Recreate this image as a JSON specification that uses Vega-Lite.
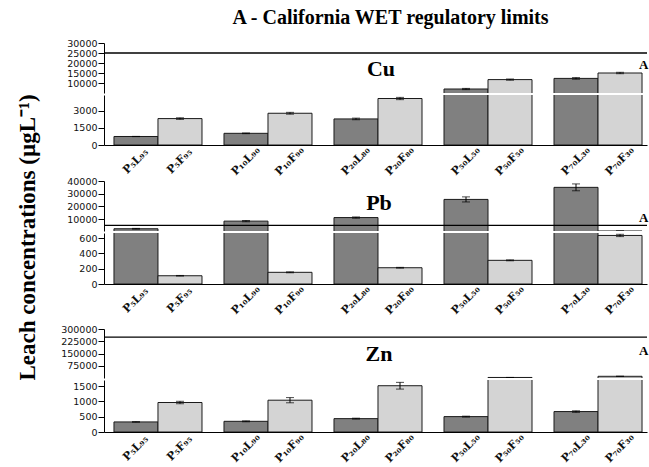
{
"$schema": "https://vega.github.io/schema/vega-lite/v6.json",
"padding": {"left": 16, "top": 8, "right": 0, "bottom": 0},
"title": {"text": "A - California WET regulatory limits", "font": "Liberation Serif", "fontSize": 20, "fontWeight": "bold", "color": "#000", "anchor": "middle", "frame": "group", "offset": 10, "dx": 15},
"bounds": "flush",
"spacing": 2,
"config": {"view": {"stroke": null}, "axis": {"domainColor": "#000", "tickColor": "#000", "labelFont": "DejaVu Sans", "labelFontSize": 9.5, "labelColor": "#111", "grid": false, "tickSize": 6, "labelPadding": 1, "labelOverlap": false, "labelFlush": false}},
"datasets": {
"cu": [
{"g":"P5","t":"L","lab":"P₅L₉₅","v":750,"lo":740,"hi":760},
{"g":"P5","t":"F","lab":"P₅F₉₅","v":2330,"lo":2260,"hi":2400},
{"g":"P10","t":"L","lab":"P₁₀L₉₀","v":1030,"lo":1000,"hi":1060},
{"g":"P10","t":"F","lab":"P₁₀F₉₀","v":2800,"lo":2720,"hi":2880},
{"g":"P20","t":"L","lab":"P₂₀L₈₀","v":2300,"lo":2230,"hi":2370},
{"g":"P20","t":"F","lab":"P₂₀F₈₀","v":4100,"lo":4000,"hi":4200},
{"g":"P50","t":"L","lab":"P₅₀L₅₀","v":7000,"lo":6700,"hi":7300},
{"g":"P50","t":"F","lab":"P₅₀F₅₀","v":11700,"lo":11400,"hi":12000},
{"g":"P70","t":"L","lab":"P₇₀L₃₀","v":12300,"lo":11900,"hi":12700},
{"g":"P70","t":"F","lab":"P₇₀F₃₀","v":15000,"lo":14650,"hi":15350}],
"pb": [
{"g":"P5","t":"L","lab":"P₅L₉₅","v":2400,"lo":2100,"hi":2700},
{"g":"P5","t":"F","lab":"P₅F₉₅","v":108,"lo":104,"hi":112},
{"g":"P10","t":"L","lab":"P₁₀L₉₀","v":8400,"lo":7900,"hi":8900},
{"g":"P10","t":"F","lab":"P₁₀F₉₀","v":153,"lo":147,"hi":159},
{"g":"P20","t":"L","lab":"P₂₀L₈₀","v":11200,"lo":10700,"hi":11700},
{"g":"P20","t":"F","lab":"P₂₀F₈₀","v":213,"lo":208,"hi":218},
{"g":"P50","t":"L","lab":"P₅₀L₅₀","v":25500,"lo":23500,"hi":27500},
{"g":"P50","t":"F","lab":"P₅₀F₅₀","v":310,"lo":304,"hi":316},
{"g":"P70","t":"L","lab":"P₇₀L₃₀","v":35000,"lo":32300,"hi":37700},
{"g":"P70","t":"F","lab":"P₇₀F₃₀","v":636,"lo":621,"hi":651}],
"zn": [
{"g":"P5","t":"L","lab":"P₅L₉₅","v":329,"lo":321,"hi":337},
{"g":"P5","t":"F","lab":"P₅F₉₅","v":964,"lo":924,"hi":1004},
{"g":"P10","t":"L","lab":"P₁₀L₉₀","v":349,"lo":334,"hi":364},
{"g":"P10","t":"F","lab":"P₁₀F₉₀","v":1040,"lo":955,"hi":1125},
{"g":"P20","t":"L","lab":"P₂₀L₈₀","v":437,"lo":422,"hi":452},
{"g":"P20","t":"F","lab":"P₂₀F₈₀","v":1513,"lo":1403,"hi":1623},
{"g":"P50","t":"L","lab":"P₅₀L₅₀","v":503,"lo":488,"hi":518},
{"g":"P50","t":"F","lab":"P₅₀F₅₀","v":5000,"lo":5000,"hi":5000},
{"g":"P70","t":"L","lab":"P₇₀L₃₀","v":668,"lo":643,"hi":693},
{"g":"P70","t":"F","lab":"P₇₀F₃₀","v":12000,"lo":12000,"hi":12000}]
},
"vconcat": [
{"width": 543, "height": 50, "data": {"name": "cu"}, "transform": [{"filter": "datum.v > 5000"}], "layer": [
 {"mark": {"type": "bar", "clip": true, "stroke": "#1a1a1a", "strokeWidth": 1},
  "encoding": {
   "x": {"field": "g", "type": "nominal", "scale": {"domain": ["P5","P10","P20","P50","P70"], "paddingInner": 0.2, "paddingOuter": 0.068, "align": 0.667}, "axis": null},
   "xOffset": {"field": "t", "type": "nominal", "scale": {"domain": ["L","F"], "paddingInner": 0, "paddingOuter": 0}},
   "y": {"field": "v", "type": "quantitative", "scale": {"domain": [5000, 30000], "zero": false, "nice": false}, "axis": {"values": [10000,15000,20000,25000,30000], "tickCount": 10, "labelOverlap": false, "format": "d", "title": null}},
   "color": {"field": "t", "type": "nominal", "scale": {"domain": ["L","F"], "range": ["#808080","#d4d4d4"]}, "legend": null}}},
 {"mark": {"type": "rule", "clip": true, "color": "#000"},
  "encoding": {"x": {"field": "g", "type": "nominal", "axis": null}, "xOffset": {"field": "t", "type": "nominal"}, "y": {"field": "lo", "type": "quantitative", "title": null}, "y2": {"field": "hi"}}},
 {"mark": {"type": "tick", "clip": true, "color": "#000", "size": 8, "thickness": 1},
  "encoding": {"x": {"field": "g", "type": "nominal", "axis": null}, "xOffset": {"field": "t", "type": "nominal"}, "y": {"field": "lo", "type": "quantitative", "title": null}}},
 {"mark": {"type": "tick", "clip": true, "color": "#000", "size": 8, "thickness": 1},
  "encoding": {"x": {"field": "g", "type": "nominal", "axis": null}, "xOffset": {"field": "t", "type": "nominal"}, "y": {"field": "hi", "type": "quantitative", "title": null}}},
 {"data": {"values": [{"limit": 25000}]}, "mark": {"type": "rule", "color": "#000", "strokeWidth": 1.3},
  "encoding": {"y": {"field": "limit", "type": "quantitative", "title": null}}},
 {"data": {"values": [{"metal": "Cu"}]}, "mark": {"type": "text", "font": "Liberation Serif", "fontWeight": "bold", "fontSize": 22, "baseline": "alphabetic", "dx": 3, "color": "#000"},
  "encoding": {"x": {"datum": "P20", "type": "nominal", "axis": null}, "y": {"datum": 13650, "type": "quantitative", "title": null}, "text": {"field": "metal"}}},
 {"data": {"values": [{"note": "A"}]}, "mark": {"type": "text", "font": "Liberation Serif", "fontWeight": "bold", "fontSize": 13, "baseline": "alphabetic", "align": "left", "dx": 41, "color": "#000"},
  "encoding": {"x": {"datum": "P70", "type": "nominal", "axis": null}, "y": {"datum": 17150, "type": "quantitative", "title": null}, "text": {"field": "note"}}}
]},
{"width": 543, "height": 50, "data": {"name": "cu"}, "layer": [
 {"mark": {"type": "bar", "clip": true, "stroke": "#1a1a1a", "strokeWidth": 1},
  "encoding": {
   "x": {"field": "g", "type": "nominal", "scale": {"domain": ["P5","P10","P20","P50","P70"], "paddingInner": 0.2, "paddingOuter": 0.068, "align": 0.667}, "axis": {"labels": false, "ticks": false, "title": null, "domainColor": "#000"}},
   "xOffset": {"field": "t", "type": "nominal", "scale": {"domain": ["L","F"], "paddingInner": 0, "paddingOuter": 0}},
   "y": {"field": "v", "type": "quantitative", "scale": {"domain": [0, 4410], "nice": false}, "axis": {"values": [0,1500,3000], "tickCount": 10, "labelOverlap": false, "format": "d", "title": null}},
   "color": {"field": "t", "type": "nominal", "scale": {"domain": ["L","F"], "range": ["#808080","#d4d4d4"]}, "legend": null}}},
 {"mark": {"type": "rule", "clip": true, "color": "#000"},
  "encoding": {"x": {"field": "g", "type": "nominal"}, "xOffset": {"field": "t", "type": "nominal"}, "y": {"field": "lo", "type": "quantitative", "title": null}, "y2": {"field": "hi"}}},
 {"mark": {"type": "tick", "clip": true, "color": "#000", "size": 8, "thickness": 1},
  "encoding": {"x": {"field": "g", "type": "nominal"}, "xOffset": {"field": "t", "type": "nominal"}, "y": {"field": "lo", "type": "quantitative", "title": null}}},
 {"mark": {"type": "tick", "clip": true, "color": "#000", "size": 8, "thickness": 1},
  "encoding": {"x": {"field": "g", "type": "nominal"}, "xOffset": {"field": "t", "type": "nominal"}, "y": {"field": "hi", "type": "quantitative", "title": null}}},
 {"mark": {"type": "text", "font": "DejaVu Serif", "fontWeight": "bold", "fontSize": 11, "angle": -45, "align": "center", "baseline": "middle", "dx": -11.5, "dy": 11.5, "color": "#111"},
  "encoding": {"x": {"field": "g", "type": "nominal"}, "xOffset": {"field": "t", "type": "nominal"}, "y": {"datum": 0, "type": "quantitative", "title": null}, "text": {"field": "lab"}}}
]},
{"width": 543, "height": 32, "data": {"values": []}, "mark": "point"},
{"width": 543, "height": 50, "data": {"name": "pb"}, "transform": [{"filter": "datum.v > 630"}], "layer": [
 {"mark": {"type": "bar", "clip": true, "stroke": "#1a1a1a", "strokeWidth": 1},
  "encoding": {
   "x": {"field": "g", "type": "nominal", "scale": {"domain": ["P5","P10","P20","P50","P70"], "paddingInner": 0.2, "paddingOuter": 0.068, "align": 0.667}, "axis": null},
   "xOffset": {"field": "t", "type": "nominal", "scale": {"domain": ["L","F"], "paddingInner": 0, "paddingOuter": 0}},
   "y": {"field": "v", "type": "quantitative", "scale": {"domain": [630, 40000], "zero": false, "nice": false}, "axis": {"values": [10000,20000,30000,40000], "tickCount": 10, "labelOverlap": false, "format": "d", "title": null}},
   "color": {"field": "t", "type": "nominal", "scale": {"domain": ["L","F"], "range": ["#808080","#d4d4d4"]}, "legend": null}}},
 {"mark": {"type": "rule", "clip": true, "color": "#000"},
  "encoding": {"x": {"field": "g", "type": "nominal", "axis": null}, "xOffset": {"field": "t", "type": "nominal"}, "y": {"field": "lo", "type": "quantitative", "title": null}, "y2": {"field": "hi"}}},
 {"mark": {"type": "tick", "clip": true, "color": "#000", "size": 8, "thickness": 1},
  "encoding": {"x": {"field": "g", "type": "nominal", "axis": null}, "xOffset": {"field": "t", "type": "nominal"}, "y": {"field": "lo", "type": "quantitative", "title": null}}},
 {"mark": {"type": "tick", "clip": true, "color": "#000", "size": 8, "thickness": 1},
  "encoding": {"x": {"field": "g", "type": "nominal", "axis": null}, "xOffset": {"field": "t", "type": "nominal"}, "y": {"field": "hi", "type": "quantitative", "title": null}}},
 {"data": {"values": [{"limit": 5000}]}, "mark": {"type": "rule", "color": "#000", "strokeWidth": 1.3},
  "encoding": {"y": {"field": "limit", "type": "quantitative", "title": null}}},
 {"data": {"values": [{"metal": "Pb"}]}, "mark": {"type": "text", "font": "Liberation Serif", "fontWeight": "bold", "fontSize": 22, "baseline": "alphabetic", "dx": 1, "color": "#000"},
  "encoding": {"x": {"datum": "P20", "type": "nominal", "axis": null}, "y": {"datum": 17400, "type": "quantitative", "title": null}, "text": {"field": "metal"}}},
 {"data": {"values": [{"note": "A"}]}, "mark": {"type": "text", "font": "Liberation Serif", "fontWeight": "bold", "fontSize": 13, "baseline": "alphabetic", "align": "left", "dx": 41, "color": "#000"},
  "encoding": {"x": {"datum": "P70", "type": "nominal", "axis": null}, "y": {"datum": 7700, "type": "quantitative", "title": null}, "text": {"field": "note"}}}
]},
{"width": 543, "height": 51, "data": {"name": "pb"}, "layer": [
 {"mark": {"type": "bar", "clip": true, "stroke": "#1a1a1a", "strokeWidth": 1},
  "encoding": {
   "x": {"field": "g", "type": "nominal", "scale": {"domain": ["P5","P10","P20","P50","P70"], "paddingInner": 0.2, "paddingOuter": 0.068, "align": 0.667}, "axis": {"labels": false, "ticks": false, "title": null, "domainColor": "#000"}},
   "xOffset": {"field": "t", "type": "nominal", "scale": {"domain": ["L","F"], "paddingInner": 0, "paddingOuter": 0}},
   "y": {"field": "v", "type": "quantitative", "scale": {"domain": [0, 668], "nice": false}, "axis": {"values": [0,200,400,600], "tickCount": 10, "labelOverlap": false, "format": "d", "title": "Leach concentrations (µgL⁻¹)", "titleFont": "Liberation Serif", "titleFontSize": 23, "titleFontWeight": "bold", "titleColor": "#000", "titleX": -69.5, "titleY": 4, "titleAngle": -90, "titleAlign": "center", "titleBaseline": "alphabetic"}},
   "color": {"field": "t", "type": "nominal", "scale": {"domain": ["L","F"], "range": ["#808080","#d4d4d4"]}, "legend": null}}},
 {"mark": {"type": "rule", "clip": true, "color": "#000"},
  "encoding": {"x": {"field": "g", "type": "nominal"}, "xOffset": {"field": "t", "type": "nominal"}, "y": {"field": "lo", "type": "quantitative"}, "y2": {"field": "hi"}}},
 {"mark": {"type": "tick", "clip": true, "color": "#000", "size": 8, "thickness": 1},
  "encoding": {"x": {"field": "g", "type": "nominal"}, "xOffset": {"field": "t", "type": "nominal"}, "y": {"field": "lo", "type": "quantitative"}}},
 {"mark": {"type": "tick", "clip": true, "color": "#000", "size": 8, "thickness": 1},
  "encoding": {"x": {"field": "g", "type": "nominal"}, "xOffset": {"field": "t", "type": "nominal"}, "y": {"field": "hi", "type": "quantitative"}}},
 {"mark": {"type": "text", "font": "DejaVu Serif", "fontWeight": "bold", "fontSize": 11, "angle": -45, "align": "center", "baseline": "middle", "dx": -11.5, "dy": 11.5, "color": "#111"},
  "encoding": {"x": {"field": "g", "type": "nominal"}, "xOffset": {"field": "t", "type": "nominal"}, "y": {"datum": 0, "type": "quantitative"}, "text": {"field": "lab"}}}
]},
{"width": 543, "height": 41, "data": {"values": []}, "mark": "point"},
{"width": 543, "height": 49, "data": {"name": "zn"}, "transform": [{"filter": "datum.v > 1700"}], "layer": [
 {"mark": {"type": "bar", "clip": true, "stroke": "#1a1a1a", "strokeWidth": 1},
  "encoding": {
   "x": {"field": "g", "type": "nominal", "scale": {"domain": ["P5","P10","P20","P50","P70"], "paddingInner": 0.2, "paddingOuter": 0.068, "align": 0.667}, "axis": null},
   "xOffset": {"field": "t", "type": "nominal", "scale": {"domain": ["L","F"], "paddingInner": 0, "paddingOuter": 0}},
   "y": {"field": "v", "type": "quantitative", "scale": {"domain": [1700, 300000], "zero": false, "nice": false}, "axis": {"values": [75000,150000,225000,300000], "tickCount": 10, "labelOverlap": false, "format": "d", "title": null}},
   "color": {"field": "t", "type": "nominal", "scale": {"domain": ["L","F"], "range": ["#808080","#d4d4d4"]}, "legend": null}}},
 {"mark": {"type": "rule", "clip": true, "color": "#000"},
  "encoding": {"x": {"field": "g", "type": "nominal", "axis": null}, "xOffset": {"field": "t", "type": "nominal"}, "y": {"field": "lo", "type": "quantitative", "title": null}, "y2": {"field": "hi"}}},
 {"mark": {"type": "tick", "clip": true, "color": "#000", "size": 8, "thickness": 1},
  "encoding": {"x": {"field": "g", "type": "nominal", "axis": null}, "xOffset": {"field": "t", "type": "nominal"}, "y": {"field": "lo", "type": "quantitative", "title": null}}},
 {"mark": {"type": "tick", "clip": true, "color": "#000", "size": 8, "thickness": 1},
  "encoding": {"x": {"field": "g", "type": "nominal", "axis": null}, "xOffset": {"field": "t", "type": "nominal"}, "y": {"field": "hi", "type": "quantitative", "title": null}}},
 {"data": {"values": [{"limit": 250000}]}, "mark": {"type": "rule", "color": "#000", "strokeWidth": 1.3},
  "encoding": {"y": {"field": "limit", "type": "quantitative", "title": null}}},
 {"data": {"values": [{"metal": "Zn"}]}, "mark": {"type": "text", "font": "Liberation Serif", "fontWeight": "bold", "fontSize": 22, "baseline": "alphabetic", "dx": 1, "color": "#000"},
  "encoding": {"x": {"datum": "P20", "type": "nominal", "axis": null}, "y": {"datum": 102800, "type": "quantitative", "title": null}, "text": {"field": "metal"}}},
 {"data": {"values": [{"note": "A"}]}, "mark": {"type": "text", "font": "Liberation Serif", "fontWeight": "bold", "fontSize": 13, "baseline": "alphabetic", "align": "left", "dx": 41, "color": "#000"},
  "encoding": {"x": {"datum": "P70", "type": "nominal", "axis": null}, "y": {"datum": 143600, "type": "quantitative", "title": null}, "text": {"field": "note"}}}
]},
{"width": 543, "height": 52, "data": {"name": "zn"}, "layer": [
 {"mark": {"type": "bar", "clip": true, "stroke": "#1a1a1a", "strokeWidth": 1},
  "encoding": {
   "x": {"field": "g", "type": "nominal", "scale": {"domain": ["P5","P10","P20","P50","P70"], "paddingInner": 0.2, "paddingOuter": 0.068, "align": 0.667}, "axis": {"labels": false, "ticks": false, "title": null, "domainColor": "#000"}},
   "xOffset": {"field": "t", "type": "nominal", "scale": {"domain": ["L","F"], "paddingInner": 0, "paddingOuter": 0}},
   "y": {"field": "v", "type": "quantitative", "scale": {"domain": [0, 1700], "nice": false}, "axis": {"values": [0,500,1000,1500], "tickCount": 10, "labelOverlap": false, "format": "d", "title": null}},
   "color": {"field": "t", "type": "nominal", "scale": {"domain": ["L","F"], "range": ["#808080","#d4d4d4"]}, "legend": null}}},
 {"mark": {"type": "rule", "clip": true, "color": "#000"},
  "encoding": {"x": {"field": "g", "type": "nominal"}, "xOffset": {"field": "t", "type": "nominal"}, "y": {"field": "lo", "type": "quantitative", "title": null}, "y2": {"field": "hi"}}},
 {"mark": {"type": "tick", "clip": true, "color": "#000", "size": 8, "thickness": 1},
  "encoding": {"x": {"field": "g", "type": "nominal"}, "xOffset": {"field": "t", "type": "nominal"}, "y": {"field": "lo", "type": "quantitative", "title": null}}},
 {"mark": {"type": "tick", "clip": true, "color": "#000", "size": 8, "thickness": 1},
  "encoding": {"x": {"field": "g", "type": "nominal"}, "xOffset": {"field": "t", "type": "nominal"}, "y": {"field": "hi", "type": "quantitative", "title": null}}},
 {"mark": {"type": "text", "font": "DejaVu Serif", "fontWeight": "bold", "fontSize": 11, "angle": -45, "align": "center", "baseline": "middle", "dx": -11.5, "dy": 11.5, "color": "#111"},
  "encoding": {"x": {"field": "g", "type": "nominal"}, "xOffset": {"field": "t", "type": "nominal"}, "y": {"datum": 0, "type": "quantitative", "title": null}, "text": {"field": "lab"}}}
]}
]
}
